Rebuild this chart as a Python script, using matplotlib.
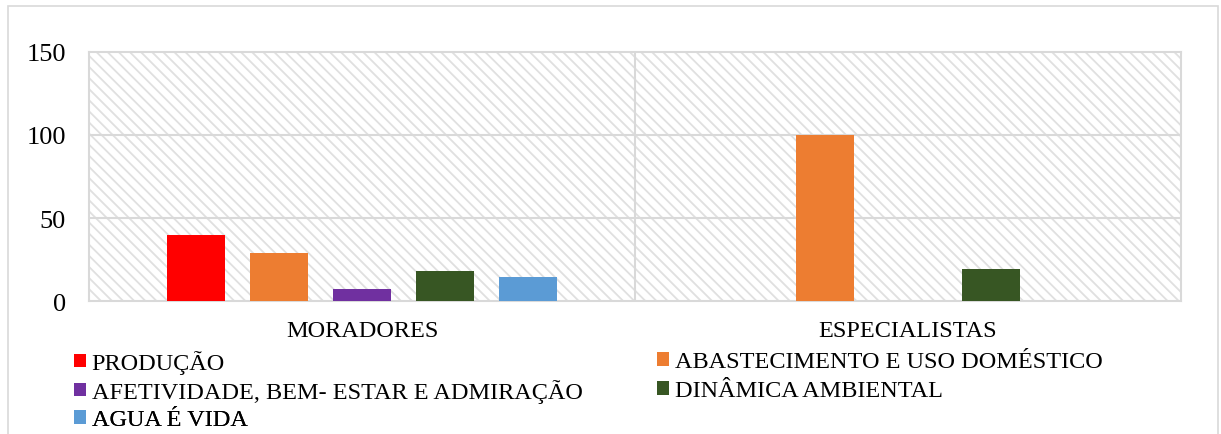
import matplotlib

matplotlib.use("Agg")
import matplotlib.pyplot as plt
from matplotlib.patches import Rectangle
import numpy as np

plt.rcParams["font.family"] = ["Liberation Serif", "DejaVu Serif"]
plt.rcParams["hatch.linewidth"] = 1.3

groups = ["MORADORES", "ESPECIALISTAS"]
series = [
    "PRODUÇÃO",
    "ABASTECIMENTO E USO DOMÉSTICO",
    "AFETIVIDADE, BEM- ESTAR E ADMIRAÇÃO",
    "DINÂMICA AMBIENTAL",
    "AGUA É VIDA",
]
moradores = [40, 29, 7, 18, 14.5]
especialistas = [0, 100, 0, 19, 0]
colors = ["#FF0000", "#ED7D31", "#7030A0", "#375623", "#5B9BD5"]
yticks = [0, 50, 100, 150]

values = np.array([moradores, especialistas])  # shape (groups, series)

fig = plt.figure(figsize=(12.21, 4.35), dpi=100)
fig.patches.append(Rectangle((8 / 1221, -0.1), 1210 / 1221, 1.1 - 7 / 435,
                             transform=fig.transFigure, fill=False,
                             edgecolor="#d9d9d9", linewidth=1.2))
ax = fig.add_axes([0.0729, 0.3057, 0.8943, 0.5725])

# hatched plot background
ax.add_patch(Rectangle((0, 0), 1, 1, transform=ax.transAxes, facecolor="white",
                       edgecolor="#e0e0e0", hatch="\\\\\\", linewidth=0, zorder=0))

x = np.arange(len(groups))
slot = 0.152
width = 0.106
handles = []
for i, (name, col) in enumerate(zip(series, colors)):
    b = ax.bar(x + (i - 2) * slot, values[:, i], width, color=col, label=name, zorder=3)
    handles.append(b)

ax.set_xlim(-0.5, 1.5)
ax.set_ylim(0, 150)
ax.set_yticks(yticks)
ax.set_xticks(x)
ax.set_xticklabels(groups)
ax.tick_params(axis="both", length=0)
ax.tick_params(axis="y", pad=16.5, labelsize=19)
ax.tick_params(axis="x", pad=14, labelsize=17.5)
for s in ax.spines.values():
    s.set_color("#d9d9d9")
    s.set_linewidth(1.5)
for v in yticks[1:-1]:
    ax.axhline(v, color="#d9d9d9", linewidth=1.5, zorder=1)
ax.axvline(0.5, color="#d9d9d9", linewidth=1.5, zorder=1)

# legend: two columns, filled row by row, one entry per legend to keep rows aligned
legend_pos = [(74, 363), (657, 363), (74, 392), (657, 392), (74, 421)]
for k, (px, py) in enumerate(legend_pos):
    lg = ax.legend([handles[k]], [series[k]], loc="center left",
                   bbox_to_anchor=(px / 1221, 1 - py / 435),
                   bbox_transform=fig.transFigure, frameon=False, fontsize=17.5,
                   handlelength=0.48, handleheight=0.48, handletextpad=0.25,
                   borderpad=0, borderaxespad=0)
    ax.add_artist(lg)

fig.savefig("out.png", dpi=100)
plt.close(fig)
